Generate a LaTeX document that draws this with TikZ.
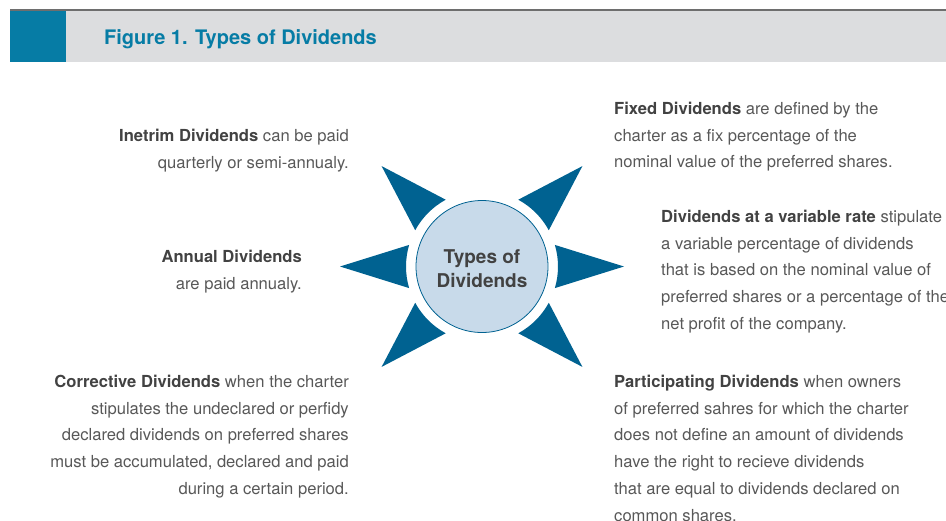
\documentclass[tikz,border=0pt]{standalone}
\usepackage{fontspec}
\setmainfont{TeX Gyre Heros}
\usepackage{tikz}
\definecolor{ray_blue}{RGB}{0,98,145}
\definecolor{hub_fill}{RGB}{200,218,234}
\definecolor{head_blue}{RGB}{6,124,165}
\definecolor{head_gray}{RGB}{220,221,223}
\definecolor{rule_gray}{RGB}{110,110,110}
\definecolor{text_gray}{RGB}{88,88,88}
\definecolor{bold_gray}{RGB}{66,66,66}
\newcommand{\kind}[1]{\textbf{\color{bold_gray}#1}}

\begin{document}
\begin{tikzpicture}[x=1pt,y=-1pt]
    \tikzstyle{desc}=[inner sep=0pt, text=text_gray, font=\fontsize{16.6}{26.7}\selectfont]
    \tikzstyle{left}=[style=desc, anchor=north east, align=right]
    \tikzstyle{right}=[style=desc, anchor=north west, align=left]
    \tikzstyle{ray}=[fill=ray_blue, draw=none]
    \tikzstyle{hub}=[draw=ray_blue, line width=0.8pt, fill=hub_fill, circle, minimum size=132pt, inner sep=0pt]

    \useasboundingbox (0,0) rectangle (946,520);

    % header
    \fill[head_gray] (10,10) rectangle (946,62);
    \fill[head_blue] (10,10) rectangle (66,62);
    \draw[rule_gray, line width=1.2pt] (10,10) -- (946,10);
    \node[anchor=base west, inner sep=0pt, text=head_blue, font=\fontsize{20}{24}\selectfont\bfseries] (title) at (104,44) {Figure 1. Types of Dividends};

    % star
    \begin{scope}[shift={(482,266.5)}]
      \fill[ray] (0:142)   -- (16.5:76)  arc[start angle=16.5,  end angle=-16.5, radius=76] -- cycle;
      \fill[ray] (45:142)  -- (61.5:76)  arc[start angle=61.5,  end angle=28.5,  radius=76] -- cycle;
      \fill[ray] (135:142) -- (151.5:76) arc[start angle=151.5, end angle=118.5, radius=76] -- cycle;
      \fill[ray] (180:142) -- (196.5:76) arc[start angle=196.5, end angle=163.5, radius=76] -- cycle;
      \fill[ray] (225:142) -- (241.5:76) arc[start angle=241.5, end angle=208.5, radius=76] -- cycle;
      \fill[ray] (315:142) -- (331.5:76) arc[start angle=331.5, end angle=298.5, radius=76] -- cycle;
    \end{scope}
    \node[hub] (hub) at (482,266.5) {};
    \node[anchor=base, align=center, inner sep=0pt, text=bold_gray, font=\fontsize{19}{24}\selectfont\bfseries] (hubtext) at (482,287) {Types of\\Dividends};

    % left side
    \node[left] (interim) at (349,129) {\kind{Inetrim Dividends} can be paid\\quarterly or semi-annualy.};
    \node[left] (annual) at (302,250) {\kind{Annual Dividends}\\are paid annualy.};
    \node[left] (corrective) at (349,375) {\kind{Corrective Dividends} when the charter\\stipulates the undeclared or perfidy\\declared dividends on preferred shares\\must be accumulated, declared and paid\\during a certain period.};

    % right side
    \node[right] (fixed) at (614,102) {\kind{Fixed Dividends} are defined by the\\charter as a fix percentage of the\\nominal value of the preferred shares.};
    \node[right] (variable) at (661,210) {\kind{Dividends at a variable rate} stipulate\\a variable percentage of dividends\\that is based on the nominal value of\\preferred shares or a percentage of the\\net profit of the company.};
    \node[right] (participating) at (614,375) {\kind{Participating Dividends} when owners\\of preferred sahres for which the charter\\does not define an amount of dividends\\have the right to recieve dividends\\that are equal to dividends declared on\\common shares.};
\end{tikzpicture}
\end{document}
